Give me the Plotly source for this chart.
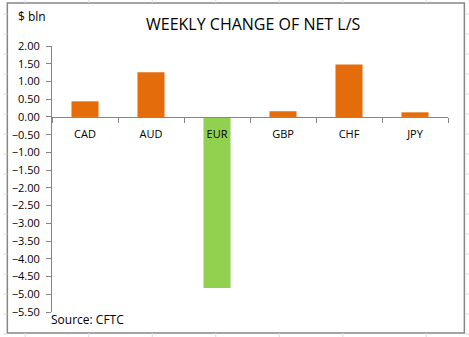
import plotly.graph_objects as go

# Weekly change of net long/short positioning, $ bln (CFTC)
currencies = ["CAD", "AUD", "EUR", "GBP", "CHF", "JPY"]
net_change = [0.44, 1.26, -4.82, 0.16, 1.48, 0.13]
bar_colors = ["#E46C0A", "#E46C0A", "#92D050", "#E46C0A", "#E46C0A", "#E46C0A"]

y_min, y_max = -5.5, 2.0

W, H = 469, 337
L, R, T, B = 49, 21, 46, 25
plot_w = W - L - R
plot_h = H - T - B


def px_x(px):
    return (px - L) / plot_w


def px_y(py):
    return (H - B - py) / plot_h


font_family = "Open Sans, Noto Sans, Arial, sans-serif"

fig = go.Figure(
    go.Bar(
        x=currencies,
        y=net_change,
        marker=dict(color=bar_colors, line=dict(width=0)),
        hoverinfo="x+y",
    )
)

shapes = []
# spreadsheet cell lines visible around the chart frame
grid_color = "#DADADA"
for gx in [22, 86, 150, 214, 278, 342, 426]:
    shapes.append(dict(type="line", xref="paper", yref="paper",
                       x0=px_x(gx), x1=px_x(gx), y0=px_y(0), y1=px_y(3),
                       line=dict(color=grid_color, width=1)))
    shapes.append(dict(type="line", xref="paper", yref="paper",
                       x0=px_x(gx), x1=px_x(gx), y0=px_y(333), y1=px_y(337),
                       line=dict(color=grid_color, width=1)))
for gy in range(14, 337, 20):
    shapes.append(dict(type="line", xref="paper", yref="paper",
                       x0=px_x(0), x1=px_x(4), y0=px_y(gy), y1=px_y(gy),
                       line=dict(color=grid_color, width=1)))
    shapes.append(dict(type="line", xref="paper", yref="paper",
                       x0=px_x(465), x1=px_x(469), y0=px_y(gy), y1=px_y(gy),
                       line=dict(color=grid_color, width=1)))

# chart frame
shapes.append(dict(type="rect", xref="paper", yref="paper",
                   x0=px_x(4), x1=px_x(464.5), y0=px_y(333), y1=px_y(3),
                   line=dict(color="#868686", width=1.5), layer="below"))

annotations = [
    dict(text="WEEKLY CHANGE OF NET L/S", xref="paper", yref="paper",
         x=px_x(252), y=px_y(24), xanchor="center", yanchor="middle",
         showarrow=False, font=dict(size=16, color="#000000", family=font_family)),
    dict(text="$ bln", xref="paper", yref="paper",
         x=px_x(13), y=px_y(17), xanchor="left", yanchor="middle",
         showarrow=False, font=dict(size=12, color="#000000", family=font_family)),
    dict(text="Source: CFTC", xref="paper", yref="paper",
         x=px_x(46), y=px_y(319), xanchor="left", yanchor="middle",
         showarrow=False, font=dict(size=12, color="#000000", family=font_family)),
]

fig.update_layout(
    width=W,
    height=H,
    margin=dict(l=L, r=R, t=T, b=B),
    paper_bgcolor="#FFFFFF",
    plot_bgcolor="#FFFFFF",
    bargap=0.59,
    showlegend=False,
    shapes=shapes,
    annotations=annotations,
    xaxis=dict(
        type="category",
        anchor="free",
        position=(0 - y_min) / (y_max - y_min),
        showline=True,
        linecolor="#868686",
        linewidth=1,
        ticks="outside",
        tickson="boundaries",
        ticklen=5,
        tickcolor="#868686",
        ticklabelstandoff=7,
        showgrid=False,
        zeroline=False,
        tickfont=dict(size=11, color="#000000", family=font_family),
    ),
    yaxis=dict(
        range=[y_min, y_max],
        dtick=0.5,
        tick0=0,
        tickformat=".2f",
        showline=True,
        linecolor="#868686",
        linewidth=1,
        ticks="outside",
        ticklen=5,
        tickcolor="#868686",
        ticklabelstandoff=4,
        showgrid=False,
        zeroline=False,
        tickfont=dict(size=11, color="#000000", family=font_family),
    ),
)

fig.write_html("out.html")
